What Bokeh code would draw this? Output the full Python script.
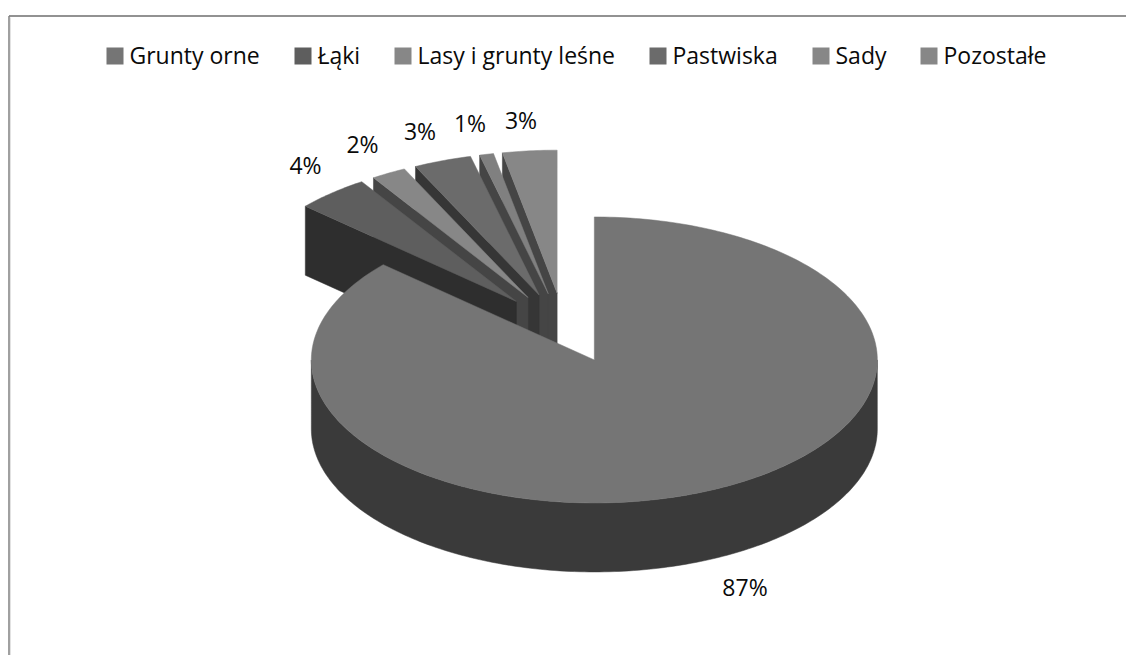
import math
from bokeh.plotting import figure
from bokeh.models import Range1d
from bokeh.core.properties import value
from bokeh.embed import file_html
from bokeh.resources import INLINE

categories = ["Grunty orne", "Łąki", "Lasy i grunty leśne", "Pastwiska", "Sady", "Pozostałe"]
shares = [86.6, 4.2, 2.0, 3.3, 0.8, 3.1]
top_colors = ["#757575", "#5e5e5e", "#878787", "#6b6b6b", "#808080", "#878787"]
wall_colors = ["#3a3a3a", "#2e2e2e", "#454545", "#363636", "#454545", "#454545"]
legend_colors = ["#757575", "#5e5e5e", "#878787", "#6b6b6b", "#878787", "#878787"]

# layout (pixels of the page)
CX, CY, RX, RY, DEPTH = 563.8, 327.5, 283.0, 143.0, 69.0
EX, EY = 73.5, 35.0
FONT = value("Open Sans")
legend_swatch_x = [106, 294, 394, 649, 812, 920]
label_xy = [(744.5, 586), (305, 164.5), (362, 143.5), (419.5, 130.5), (469.5, 122.5), (520.5, 119.5)]

p = figure(width=1126, height=655, output_backend="svg", toolbar_location=None,
           x_range=Range1d(0, 1126), y_range=Range1d(655, 0), min_border=0)
p.axis.visible = False
p.grid.visible = False
p.outline_line_color = None
p.background_fill_color = "white"

# chart frame: top and left edges only
p.line([8.5, 1126], [15.5, 15.5], line_color="#929292", line_width=2)
p.line([8.5, 8.5], [15.5, 655], line_color="#808080", line_width=1.5)
p.line([10, 10], [17, 655], line_color="#e2e2e2", line_width=1)


def pt(ax, ay, deg):
    a = math.radians(deg)
    return ax + RX * math.sin(a), ay - RY * math.cos(a)


def arc(ax, ay, d0, d1, n=None):
    n = n or max(4, int(abs(d1 - d0) * 1.5))
    return [pt(ax, ay, d0 + (d1 - d0) * i / n) for i in range(n + 1)]


cum = [0]
for s in shares:
    cum.append(cum[-1] + s)

slices = []
for i, s in enumerate(shares):
    d0, d1 = cum[i] * 3.6, cum[i + 1] * 3.6
    m = math.radians((d0 + d1) / 2)
    slices.append((i, d0, d1, CX + EX * math.sin(m), CY - EY * math.cos(m)))

# small slices, back (last) to front (first), then the main slice
for i, d0, d1, ax, ay in reversed(slices[1:]):
    lx, ly = pt(ax, ay, d0)
    p.patch([lx, ax, ax, lx], [ly, ay, ay + DEPTH, ly + DEPTH],
            fill_color=wall_colors[i], line_color=wall_colors[i], line_width=0.5)
    pts = [(ax, ay)] + arc(ax, ay, d0, d1)
    p.patch([q[0] for q in pts], [q[1] for q in pts],
            fill_color=top_colors[i], line_color=top_colors[i], line_width=0.5)

i, d0, d1, ax, ay = slices[0]
front = arc(ax, ay, 90, 270, 180)
wall = front + [(x, y + DEPTH) for x, y in reversed(front)]
p.patch([q[0] for q in wall], [q[1] for q in wall],
        fill_color=wall_colors[0], line_color=wall_colors[0], line_width=0.5)
pts = [(ax, ay)] + arc(ax, ay, d0, d1, 300)
p.patch([q[0] for q in pts], [q[1] for q in pts],
        fill_color=top_colors[0], line_color=top_colors[0], line_width=0.5)

# percent labels
p.text([q[0] for q in label_xy], [q[1] for q in label_xy], text=[f"{round(s)}%" for s in shares],
       text_font=FONT, text_font_size="23px", text_color="#0a0a0a",
       text_align="center", text_baseline="middle")

# legend
for x, name, col in zip(legend_swatch_x, categories, legend_colors):
    p.quad(left=[x], right=[x + 17], top=[47], bottom=[64], fill_color=col, line_color=None)
    p.text([x + 23], [54.5], text=[name], text_font=FONT, text_font_size="23px",
           text_color="#0a0a0a", text_align="left", text_baseline="middle")

open("out.html", "w").write(file_html(p, INLINE))
